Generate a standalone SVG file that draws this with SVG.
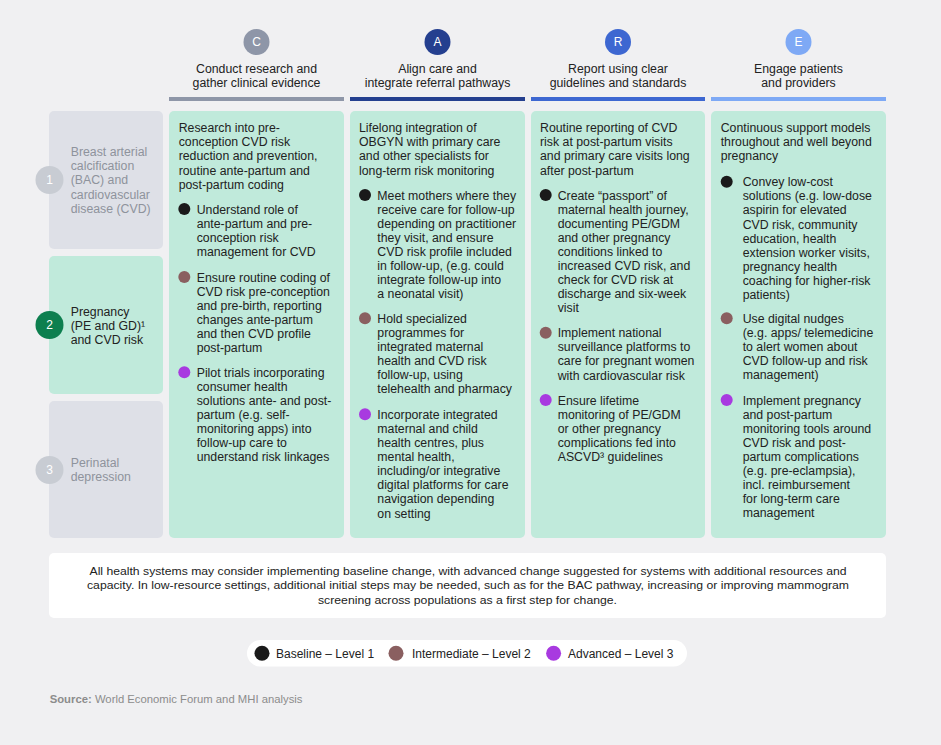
<svg xmlns="http://www.w3.org/2000/svg" width="941" height="745" viewBox="0 0 941 745">
<style>
text{font-family:"Liberation Sans",Arial,sans-serif;}
.t{font-size:12.3px;fill:#222;}
.g{font-size:12.3px;fill:#8e939c;}
.hd{font-size:12.3px;fill:#222;text-anchor:middle;}
.num{font-size:12px;fill:#fff;text-anchor:middle;}
.mint{fill:#c0eadb;}
.grey{fill:#dee0e7;}
.b1{fill:#1a1a1a;}
.b2{fill:#8a5f60;}
.b3{fill:#a83ae0;}
.ft{font-size:11.8px;fill:#222;text-anchor:middle;}
.lg{font-size:12px;fill:#222;}
</style>
<rect x="0" y="0" width="941" height="745" fill="#f0f0f2"/>

<g id="header-C">
<circle cx="256.5" cy="42" r="13" fill="#8e96a8"/>
<text class="num" x="256.5" y="46.3">C</text>
<text class="hd"><tspan x="256.5" y="72.5">Conduct research and</tspan><tspan x="256.5" y="86.5">gather clinical evidence</tspan></text>
<rect x="169" y="97" width="175" height="4" fill="#8e96a8"/>
</g>
<g id="header-A">
<circle cx="437.5" cy="42" r="13" fill="#243f8f"/>
<text class="num" x="437.5" y="46.3">A</text>
<text class="hd"><tspan x="437.5" y="72.5">Align care and</tspan><tspan x="437.5" y="86.5">integrate referral pathways</tspan></text>
<rect x="350" y="97" width="175" height="4" fill="#243f8f"/>
</g>
<g id="header-R">
<circle cx="618" cy="42" r="13" fill="#3d67d1"/>
<text class="num" x="618" y="46.3">R</text>
<text class="hd"><tspan x="618" y="72.5">Report using clear</tspan><tspan x="618" y="86.5">guidelines and standards</tspan></text>
<rect x="531" y="97" width="174" height="4" fill="#3d67d1"/>
</g>
<g id="header-E">
<circle cx="798.5" cy="42" r="13" fill="#7ea9f5"/>
<text class="num" x="798.5" y="46.3">E</text>
<text class="hd"><tspan x="798.5" y="72.5">Engage patients</tspan><tspan x="798.5" y="86.5">and providers</tspan></text>
<rect x="711" y="97" width="175" height="4" fill="#7ea9f5"/>
</g>

<g id="row-1">
<rect class="grey" x="49" y="111" width="114" height="138" rx="5"/>
<circle cx="49.5" cy="180" r="14" fill="#c8ccd3"/>
<text class="num" x="49.5" y="184.3">1</text>
<text class="g"><tspan x="70.7" y="156.2">Breast arterial</tspan><tspan x="70.7" dy="14.1">calcification</tspan><tspan x="70.7" dy="14.1">(BAC) and</tspan><tspan x="70.7" dy="14.1">cardiovascular</tspan><tspan x="70.7" dy="14.1">disease (CVD)</tspan></text>
</g>
<g id="row-2">
<rect class="mint" x="49" y="256" width="114" height="138" rx="5"/>
<circle cx="49.5" cy="325" r="14" fill="#0d7f4f"/>
<text class="num" x="49.5" y="329.3">2</text>
<text class="t"><tspan x="70.7" y="316.2">Pregnancy</tspan><tspan x="70.7" dy="14.1">(PE and GD)¹</tspan><tspan x="70.7" dy="14.1">and CVD risk</tspan></text>
</g>
<g id="row-3">
<rect class="grey" x="49" y="401" width="114" height="137" rx="5"/>
<circle cx="49.5" cy="470" r="14" fill="#c8ccd3"/>
<text class="num" x="49.5" y="474.3">3</text>
<text class="g"><tspan x="70.7" y="467.2">Perinatal</tspan><tspan x="70.7" dy="14.1">depression</tspan></text>
</g>

<g id="col-C">
<rect class="mint" x="169" y="111" width="175" height="427" rx="5"/>
<text class="t"><tspan x="178.7" y="132.2">Research into pre-</tspan><tspan x="178.7" dy="14.1">conception CVD risk</tspan><tspan x="178.7" dy="14.1">reduction and prevention,</tspan><tspan x="178.7" dy="14.1">routine ante-partum and</tspan><tspan x="178.7" dy="14.1">post-partum coding</tspan></text>
<circle class="b1" cx="184.3" cy="209" r="6"/>
<text class="t"><tspan x="196.7" y="213.5">Understand role of</tspan><tspan x="196.7" dy="14.1">ante-partum and pre-</tspan><tspan x="196.7" dy="14.1">conception risk</tspan><tspan x="196.7" dy="14.1">management for CVD</tspan></text>
<circle class="b2" cx="184.3" cy="277" r="6"/>
<text class="t"><tspan x="196.7" y="281.5">Ensure routine coding of</tspan><tspan x="196.7" dy="14.1">CVD risk pre-conception</tspan><tspan x="196.7" dy="14.1">and pre-birth, reporting</tspan><tspan x="196.7" dy="14.1">changes ante-partum</tspan><tspan x="196.7" dy="14.1">and then CVD profile</tspan><tspan x="196.7" dy="14.1">post-partum</tspan></text>
<circle class="b3" cx="184.3" cy="372.3" r="6"/>
<text class="t"><tspan x="196.7" y="376.8">Pilot trials incorporating</tspan><tspan x="196.7" dy="14.1">consumer health</tspan><tspan x="196.7" dy="14.1">solutions ante- and post-</tspan><tspan x="196.7" dy="14.1">partum (e.g. self-</tspan><tspan x="196.7" dy="14.1">monitoring apps) into</tspan><tspan x="196.7" dy="14.1">follow-up care to</tspan><tspan x="196.7" dy="14.1">understand risk linkages</tspan></text>
</g>

<g id="col-A">
<rect class="mint" x="350" y="111" width="175" height="427" rx="5"/>
<text class="t"><tspan x="359" y="132.2">Lifelong integration of</tspan><tspan x="359" dy="14.1">OBGYN with primary care</tspan><tspan x="359" dy="14.1">and other specialists for</tspan><tspan x="359" dy="14.1">long-term risk monitoring</tspan></text>
<circle class="b1" cx="365" cy="195" r="6"/>
<text class="t"><tspan x="377.3" y="199.5">Meet mothers where they</tspan><tspan x="377.3" dy="14.1">receive care for follow-up</tspan><tspan x="377.3" dy="14.1">depending on practitioner</tspan><tspan x="377.3" dy="14.1">they visit, and ensure</tspan><tspan x="377.3" dy="14.1">CVD risk profile included</tspan><tspan x="377.3" dy="14.1">in follow-up, (e.g. could</tspan><tspan x="377.3" dy="14.1">integrate follow-up into</tspan><tspan x="377.3" dy="14.1">a neonatal visit)</tspan></text>
<circle class="b2" cx="365" cy="318.3" r="6"/>
<text class="t"><tspan x="377.3" y="322.8">Hold specialized</tspan><tspan x="377.3" dy="14.1">programmes for</tspan><tspan x="377.3" dy="14.1">integrated maternal</tspan><tspan x="377.3" dy="14.1">health and CVD risk</tspan><tspan x="377.3" dy="14.1">follow-up, using</tspan><tspan x="377.3" dy="14.1">telehealth and pharmacy</tspan></text>
<circle class="b3" cx="365" cy="414.3" r="6"/>
<text class="t"><tspan x="377.3" y="418.8">Incorporate integrated</tspan><tspan x="377.3" dy="14.1">maternal and child</tspan><tspan x="377.3" dy="14.1">health centres, plus</tspan><tspan x="377.3" dy="14.1">mental health,</tspan><tspan x="377.3" dy="14.1">including/or integrative</tspan><tspan x="377.3" dy="14.1">digital platforms for care</tspan><tspan x="377.3" dy="14.1">navigation depending</tspan><tspan x="377.3" dy="14.1">on setting</tspan></text>
</g>

<g id="col-R">
<rect class="mint" x="531" y="111" width="174" height="427" rx="5"/>
<text class="t"><tspan x="540" y="132.2">Routine reporting of CVD</tspan><tspan x="540" dy="14.1">risk at post-partum visits</tspan><tspan x="540" dy="14.1">and primary care visits long</tspan><tspan x="540" dy="14.1">after post-partum</tspan></text>
<circle class="b1" cx="545.7" cy="195" r="6"/>
<text class="t"><tspan x="557.7" y="199.5">Create “passport” of</tspan><tspan x="557.7" dy="14.1">maternal health journey,</tspan><tspan x="557.7" dy="14.1">documenting PE/GDM</tspan><tspan x="557.7" dy="14.1">and other pregnancy</tspan><tspan x="557.7" dy="14.1">conditions linked to</tspan><tspan x="557.7" dy="14.1">increased CVD risk, and</tspan><tspan x="557.7" dy="14.1">check for CVD risk at</tspan><tspan x="557.7" dy="14.1">discharge and six-week</tspan><tspan x="557.7" dy="14.1">visit</tspan></text>
<circle class="b2" cx="545.7" cy="332.7" r="6"/>
<text class="t"><tspan x="557.7" y="337.2">Implement national</tspan><tspan x="557.7" dy="14.1">surveillance platforms to</tspan><tspan x="557.7" dy="14.1">care for pregnant women</tspan><tspan x="557.7" dy="14.1">with cardiovascular risk</tspan></text>
<circle class="b3" cx="545.7" cy="400" r="6"/>
<text class="t"><tspan x="557.7" y="404.5">Ensure lifetime</tspan><tspan x="557.7" dy="14.1">monitoring of PE/GDM</tspan><tspan x="557.7" dy="14.1">or other pregnancy</tspan><tspan x="557.7" dy="14.1">complications fed into</tspan><tspan x="557.7" dy="14.1">ASCVD³ guidelines</tspan></text>
</g>

<g id="col-E">
<rect class="mint" x="711" y="111" width="175" height="427" rx="5"/>
<text class="t"><tspan x="720.7" y="132.2">Continuous support models</tspan><tspan x="720.7" dy="14.1">throughout and well beyond</tspan><tspan x="720.7" dy="14.1">pregnancy</tspan></text>
<circle class="b1" cx="726.7" cy="181.7" r="6"/>
<text class="t"><tspan x="742.7" y="186.2">Convey low-cost</tspan><tspan x="742.7" dy="14.1">solutions (e.g. low-dose</tspan><tspan x="742.7" dy="14.1">aspirin for elevated</tspan><tspan x="742.7" dy="14.1">CVD risk, community</tspan><tspan x="742.7" dy="14.1">education, health</tspan><tspan x="742.7" dy="14.1">extension worker visits,</tspan><tspan x="742.7" dy="14.1">pregnancy health</tspan><tspan x="742.7" dy="14.1">coaching for higher-risk</tspan><tspan x="742.7" dy="14.1">patients)</tspan></text>
<circle class="b2" cx="726.7" cy="318.3" r="6"/>
<text class="t"><tspan x="742.7" y="322.8">Use digital nudges</tspan><tspan x="742.7" dy="14.1">(e.g. apps/ telemedicine</tspan><tspan x="742.7" dy="14.1">to alert women about</tspan><tspan x="742.7" dy="14.1">CVD follow-up and risk</tspan><tspan x="742.7" dy="14.1">management)</tspan></text>
<circle class="b3" cx="726.7" cy="400" r="6"/>
<text class="t"><tspan x="742.7" y="404.5">Implement pregnancy</tspan><tspan x="742.7" dy="14.1">and post-partum</tspan><tspan x="742.7" dy="14.1">monitoring tools around</tspan><tspan x="742.7" dy="14.1">CVD risk and post-</tspan><tspan x="742.7" dy="14.1">partum complications</tspan><tspan x="742.7" dy="14.1">(e.g. pre-eclampsia),</tspan><tspan x="742.7" dy="14.1">incl. reimbursement</tspan><tspan x="742.7" dy="14.1">for long-term care</tspan><tspan x="742.7" dy="14.1">management</tspan></text>
</g>

<g id="note">
<rect x="49" y="553" width="837" height="65" rx="5" fill="#ffffff"/>
<text class="ft" x="468" y="575" textLength="757" lengthAdjust="spacingAndGlyphs">All health systems may consider implementing baseline change, with advanced change suggested for systems with additional resources and</text>
<text class="ft" x="468" y="589" textLength="762" lengthAdjust="spacingAndGlyphs">capacity. In low-resource settings, additional initial steps may be needed, such as for the BAC pathway, increasing or improving mammogram</text>
<text class="ft" x="467.5" y="603.7" textLength="299" lengthAdjust="spacingAndGlyphs">screening across populations as a first step for change.</text>
</g>

<g id="legend">
<rect x="247" y="640" width="440" height="26.5" rx="13.25" fill="#ffffff"/>
<circle class="b1" cx="262" cy="653.3" r="7.5"/>
<text class="lg" x="276" y="657.5">Baseline – Level 1</text>
<circle class="b2" cx="396" cy="653.3" r="7.5"/>
<text class="lg" x="412" y="657.5">Intermediate – Level 2</text>
<circle class="b3" cx="553.6" cy="653.3" r="7.5"/>
<text class="lg" x="568" y="657.5">Advanced – Level 3</text>
</g>

<g id="source">
<text x="49.7" y="703.3" style="font-size:11.3px;fill:#8c8c8c;"><tspan font-weight="bold">Source:</tspan> World Economic Forum and MHI analysis</text>
</g>

<g id="connectors"></g>
</svg>
